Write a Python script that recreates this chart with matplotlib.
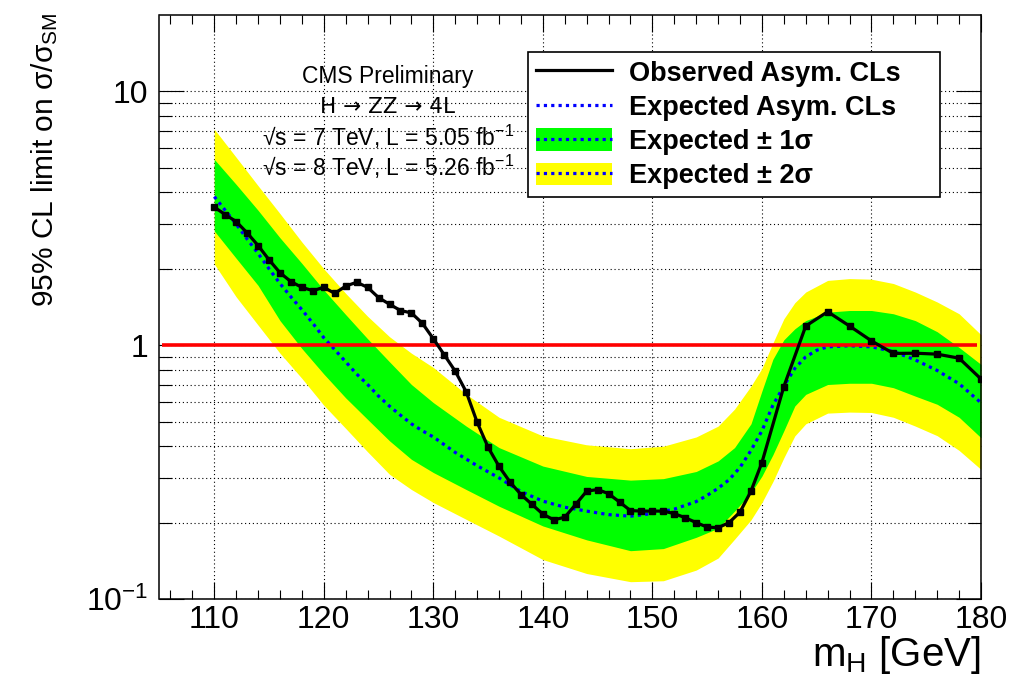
import matplotlib
matplotlib.use('Agg')
import matplotlib.pyplot as plt
from matplotlib.lines import Line2D
from matplotlib.patches import Patch
from matplotlib.ticker import FixedLocator, FixedFormatter, NullFormatter

plt.rcParams['font.family'] = ['Liberation Sans', 'DejaVu Sans']
plt.rcParams['mathtext.fontset'] = 'custom'
plt.rcParams['mathtext.rm'] = 'Liberation Sans'
plt.rcParams['mathtext.it'] = 'Liberation Sans'
plt.rcParams['mathtext.bf'] = 'Liberation Sans:bold'
plt.rcParams['mathtext.default'] = 'regular'

# ---------------- data ----------------
obs_mass = [110, 111, 112, 113, 114, 115, 116, 117, 118, 119, 120, 121, 122, 123, 124, 125,
            126, 127, 128, 129, 130, 131, 132, 133, 134, 135, 136, 137, 138, 139, 140, 141,
            142, 143, 144, 145, 146, 147, 148, 149, 150, 151, 152, 153, 154, 155, 156, 157,
            158, 159, 160, 162, 164, 166, 168, 170, 172, 174, 176, 178, 180]
obs_limit = [3.50, 3.27, 3.07, 2.77, 2.47, 2.17, 1.93, 1.78, 1.69, 1.64, 1.69, 1.60, 1.71, 1.77,
             1.69, 1.54, 1.45, 1.37, 1.34, 1.22, 1.06, 0.916, 0.79, 0.655, 0.497, 0.396, 0.333,
             0.289, 0.258, 0.236, 0.216, 0.205, 0.210, 0.236, 0.266, 0.270, 0.260, 0.241, 0.223,
             0.222, 0.222, 0.222, 0.217, 0.209, 0.200, 0.192, 0.191, 0.200, 0.220, 0.266, 0.345,
             0.687, 1.19, 1.355, 1.19, 1.04, 0.928, 0.93, 0.922, 0.889, 0.736]

exp_mass = [110, 111, 112, 113, 114, 115, 116, 117, 118, 119, 120, 121, 122, 123, 124, 125,
            126, 127, 128, 129, 130, 132, 134, 136, 138, 140, 142, 144, 146, 148, 150, 152,
            154, 155, 156, 157, 158, 159, 160, 161, 162, 163, 164, 165, 166, 168, 170, 172,
            174, 176, 178, 180]
exp_limit = [3.85, 3.40, 3.00, 2.62, 2.30, 2.00, 1.75, 1.55, 1.38, 1.22, 1.07, 0.96, 0.86, 0.77,
             0.70, 0.63, 0.575, 0.53, 0.49, 0.46, 0.435, 0.378, 0.335, 0.300, 0.265, 0.243,
             0.230, 0.222, 0.215, 0.212, 0.217, 0.226, 0.242, 0.256, 0.273, 0.295, 0.330, 0.385,
             0.460, 0.580, 0.690, 0.810, 0.900, 0.955, 0.985, 0.995, 0.985, 0.945, 0.875, 0.795,
             0.705, 0.593]

band_mass = [110, 112, 114, 116, 118, 120, 122, 124, 126, 128, 130, 133, 136, 140, 144, 148,
             151, 154, 156, 157.5, 159, 160, 161, 162, 163, 164, 166, 168, 170, 172, 174, 176,
             178, 180]
band_1s_hi = [5.4, 4.3, 3.4, 2.65, 2.1, 1.65, 1.32, 1.06, 0.86, 0.70, 0.594, 0.48, 0.395, 0.334,
              0.304, 0.294, 0.298, 0.318, 0.35, 0.395, 0.49, 0.66, 0.88, 1.05, 1.16, 1.25, 1.35,
              1.37, 1.37, 1.33, 1.25, 1.13, 0.98, 0.84]
band_2s_hi = [7.1, 5.5, 4.25, 3.3, 2.55, 2.0, 1.6, 1.3, 1.08, 0.93, 0.817, 0.641, 0.52, 0.439,
              0.405, 0.391, 0.40, 0.435, 0.48, 0.56, 0.69, 0.81, 1.02, 1.27, 1.47, 1.62, 1.8,
              1.83, 1.82, 1.75, 1.62, 1.48, 1.33, 1.10]
band_1s_lo = [2.82, 2.2, 1.72, 1.25, 0.97, 0.77, 0.62, 0.51, 0.42, 0.355, 0.315, 0.27, 0.232,
              0.194, 0.171, 0.155, 0.158, 0.175, 0.19, 0.222, 0.262, 0.305, 0.37, 0.46, 0.576,
              0.64, 0.70, 0.708, 0.708, 0.68, 0.63, 0.585, 0.52, 0.432]
band_2s_lo = [2.09, 1.55, 1.2, 0.93, 0.74, 0.58, 0.47, 0.38, 0.31, 0.27, 0.24, 0.206, 0.177,
              0.143, 0.126, 0.117, 0.118, 0.13, 0.145, 0.172, 0.205, 0.24, 0.29, 0.36, 0.439,
              0.49, 0.54, 0.545, 0.543, 0.52, 0.48, 0.44, 0.385, 0.324]

x_major = [110, 120, 130, 140, 150, 160, 170, 180]
x_minor = [106, 108, 112, 114, 116, 118, 122, 124, 126, 128, 132, 134, 136, 138, 142, 144,
           146, 148, 152, 154, 156, 158, 162, 164, 166, 168, 172, 174, 176, 178]
y_major = [0.1, 1, 10]
y_major_labels = ['10$^{-1}$', '1', '10']
y_minor = [0.2, 0.3, 0.4, 0.5, 0.6, 0.7, 0.8, 0.9, 2, 3, 4, 5, 6, 7, 8, 9]

legend_labels = ['Observed Asym. CLs', 'Expected Asym. CLs', 'Expected ± 1σ', 'Expected ± 2σ']
info_lines = ['CMS Preliminary', 'H → ZZ → 4L',
              '√s = 7 TeV, L = 5.05 fb$^{-1}$', '√s = 8 TeV, L = 5.26 fb$^{-1}$']
info_family = [['Liberation Sans'], ['DejaVu Sans'], ['Liberation Sans'], ['Liberation Sans']]
info_size = [16.5, 15.5, 16.5, 16.5]

# ---------------- figure ----------------
W, H = 1020, 692
fig = plt.figure(figsize=(W / 100, H / 100), dpi=100)
ax = fig.add_axes([159.5 / W, 1 - 599 / H, (981 - 159.5) / W, (599 - 15) / H])
ax.set_yscale('log')
ax.set_xlim(105, 180)
ax.set_ylim(0.1, 20)

GREEN = '#00ff00'
YELLOW = '#ffff00'
BLUE = '#0000ff'
dot = (0, (1.0, 1.3))

ax.fill_between(band_mass, band_2s_lo, band_2s_hi, color=YELLOW, lw=0, zorder=1)
ax.fill_between(band_mass, band_1s_lo, band_1s_hi, color=GREEN, lw=0, zorder=2)
ax.plot(exp_mass, exp_limit, color=BLUE, lw=2.3, ls=dot, zorder=3)
ax.plot([105.2, 179.6], [1, 1], color='#ff0000', lw=2.6, zorder=4, solid_capstyle='butt')
ax.plot(obs_mass, obs_limit, color='black', lw=2.3, marker='s', ms=5, zorder=5)

# ticks
ax.xaxis.set_major_locator(FixedLocator(x_major))
ax.xaxis.set_minor_locator(FixedLocator(x_minor))
ax.yaxis.set_major_locator(FixedLocator(y_major))
ax.yaxis.set_major_formatter(FixedFormatter(y_major_labels))
ax.yaxis.set_minor_locator(FixedLocator(y_minor))
ax.yaxis.set_minor_formatter(NullFormatter())
ax.tick_params(axis='both', which='both', direction='in', top=True, right=True,
               width=0.8, color='black')
ax.tick_params(axis='x', which='major', length=12, pad=4, labelsize=23)
ax.tick_params(axis='x', which='minor', length=6.5)
ax.tick_params(axis='y', which='major', length=18, pad=8, labelsize=23)
ax.tick_params(axis='y', which='minor', length=9.5)

ax.set_axisbelow(True)
ax.grid(True, axis='x', which='major', color='black', lw=0.8, ls=(0, (1, 2.5)))
ax.grid(True, axis='y', which='both', color='black', lw=0.8, ls=(0, (1, 2.5)))
for s in ax.spines.values():
    s.set_linewidth(1.1)
    s.set_zorder(10)

# axis titles
fig.text(45 / W, 1 - 12 / H, r'95% CL limit on $\sigma/\sigma_{SM}$', rotation=90,
         ha='center', va='top', fontsize=21.5)
fig.text(981 / W, 1 - 634 / H, 'm$_H$ [GeV]', ha='right', va='top', fontsize=29)

# info text
for i, (t, fam, fs) in enumerate(zip(info_lines, info_family, info_size)):
    fig.text(388 / W, 1 - (77 + 30 * i) / H, t, ha='center', va='center', fontsize=fs,
             family=fam)

# legend
h_obs = Line2D([], [], color='black', lw=2.3)
h_exp = Line2D([], [], color=BLUE, lw=2.3, ls=dot)
h_1s = (Patch(facecolor=GREEN, edgecolor='none'), Line2D([], [], color=BLUE, lw=2.3, ls=dot))
h_2s = (Patch(facecolor=YELLOW, edgecolor='none'), Line2D([], [], color=BLUE, lw=2.3, ls=dot))
leg = ax.legend([h_obs, h_exp, h_1s, h_2s], legend_labels, loc='upper left',
                bbox_to_anchor=(528 / W, 1 - 193 / H, (940 - 528) / W, (193 - 52) / H),
                bbox_transform=fig.transFigure, mode='expand',
                prop={'weight': 'bold', 'size': 19.5}, frameon=True, fancybox=False,
                edgecolor='black', framealpha=1, borderpad=0.3, labelspacing=0.28,
                handlelength=2.8, handleheight=0.9, handletextpad=0.62, borderaxespad=0)
leg.get_frame().set_linewidth(1.2)
leg.set_zorder(20)

fig.savefig('out.png', dpi=100)
